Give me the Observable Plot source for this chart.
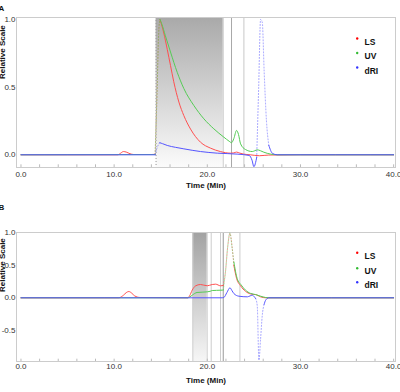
<!DOCTYPE html>
<html>
<head>
<meta charset="utf-8">
<script src="https://cdn.jsdelivr.net/npm/d3@7"></script>
<script src="https://cdn.jsdelivr.net/npm/@observablehq/plot@0.6"></script>
<style>
  body { margin: 0; background: #fff; font-family: "Liberation Sans", Arial, sans-serif; }
  #chart { width: 400px; }
  #chart svg { display: block; }
</style>
</head>
<body>
<div id="chart"></div>
<script>
// Detector names and their trace colours
const detectors = ["LS", "UV", "dRI"];
const traceColors = ["#ff5050", "#55cc55", "#5555ff"];
const legendColors = ["#ff0000", "#33bb33", "#3333ff"];

// Axis ticks
const timeTicks = [0, 10, 20, 30, 40];
const minorTimeTicks = [0, 2, 4, 6, 8, 10, 12, 14, 16, 18, 20, 22, 24, 26, 28, 30, 32, 34, 36, 38, 40];
const scaleTicksA = [0, 0.5, 1.0];
const scaleTicksB = [-0.5, 0, 0.5, 1.0];

// Panel A traces (time in min, relative scale)
const lsTimeA = [0, 5, 10.4, 10.7, 11.0, 11.3, 11.7, 12.1, 14.0, 14.4, 14.6, 14.78, 14.92, 15.1, 15.33, 15.7, 16.05, 16.4, 16.95, 17.48, 18.2, 19.27, 20.35, 21.4, 22.5, 22.85, 23.14, 23.5, 23.9, 24.6, 25.6, 26.6, 30, 35, 40];
const lsValA  = [0, 0, 0, 0.012, 0.024, 0.02, 0.008, 0.002, 0.002, 0.004, 0.45, 0.9, 1.0, 0.96, 0.9, 0.78, 0.66, 0.54, 0.39, 0.29, 0.19, 0.093, 0.049, 0.024, 0.012, 0.014, 0.02, 0.012, 0.005, 0, -0.007, -0.002, 0, 0, 0];

const uvTimeA = [0, 14.4, 14.6, 14.78, 14.92, 15.1, 15.5, 16.05, 16.77, 17.48, 18.56, 19.63, 20.7, 21.78, 22.35, 22.6, 22.85, 23.14, 23.35, 23.57, 24.1, 24.83, 25.1, 25.36, 25.7, 26.07, 26.8, 27.5, 40];
const uvValA  = [0, 0.002, 0.45, 0.9, 1.0, 0.97, 0.88, 0.76, 0.61, 0.49, 0.364, 0.266, 0.192, 0.13, 0.1, 0.089, 0.12, 0.18, 0.15, 0.081, 0.039, 0.024, 0.03, 0.037, 0.03, 0.019, 0.005, 0, 0];

const riTimeA = [0, 14.4, 14.6, 14.9, 15.2, 15.7, 16.6, 17.48, 19.27, 21.07, 23.2, 24.5, 24.8, 25.0, 25.3, 25.51, 25.72, 25.9, 26.1, 26.35, 26.6, 27.0, 27.5, 40];
const riValA  = [0, 0, 0.05, 0.089, 0.082, 0.069, 0.055, 0.044, 0.024, 0.012, 0.005, -0.005, -0.04, -0.088, -0.02, 0.49, 1.0, 0.98, 0.62, 0.25, 0.07, 0.01, 0, 0];

// Panel B traces
const lsTimeB = [0, 10.5, 11.0, 11.3, 11.58, 11.9, 12.2, 12.8, 17.9, 18.1, 18.38, 18.74, 19.27, 19.99, 20.53, 20.89, 21.42, 21.71, 21.95, 22.2, 22.43, 22.68, 22.85, 23.14, 23.57, 24.1, 24.64, 24.95, 25.18, 25.72, 26.3, 40];
const lsValB  = [0, 0, 0.04, 0.08, 0.097, 0.07, 0.03, 0.005, 0, 0.03, 0.118, 0.184, 0.205, 0.185, 0.205, 0.21, 0.185, 0.19, 0.4, 0.8, 0.99, 0.76, 0.5, 0.3, 0.185, 0.1, 0.06, 0.052, 0.05, 0.015, 0, 0];

const uvTimeB = [0, 17.9, 18.1, 18.38, 18.9, 19.99, 20.3, 20.53, 21.0, 21.6, 21.72, 21.95, 22.2, 22.43, 22.65, 22.85, 23.2, 23.65, 24.1, 24.64, 25.18, 25.72, 26.25, 26.6, 40];
const uvValB  = [0, 0, 0.01, 0.04, 0.082, 0.092, 0.1, 0.112, 0.115, 0.118, 0.12, 0.4, 0.8, 1.0, 0.78, 0.55, 0.3, 0.195, 0.118, 0.068, 0.05, 0.025, 0.005, 0, 0];

const riTimeB = [0, 21.6, 21.78, 22.1, 22.43, 22.65, 22.85, 23.39, 24.3, 24.6, 24.83, 25.05, 25.18, 25.36, 25.54, 25.72, 25.9, 26.1, 26.25, 26.6, 40];
const riValB  = [0, 0, 0.005, 0.08, 0.154, 0.11, 0.066, 0.025, 0.015, 0.03, 0.04, 0.015, -0.01, -0.12, -0.96, -0.63, -0.27, -0.1, -0.04, 0, 0];

// Fast-changing stretches (min) where the detector samples are sparse and plot as dots
const sparseA = [[[14.4, 14.92]], [[14.4, 14.92]], [[14.4, 14.9], [25.3, 26.6]]];
const sparseB = [[[21.71, 22.85]], [[21.72, 22.85]], [[25.18, 26.1]]];

// Peak slice (shaded) and slice boundary markers, in minutes
const sliceA = [14.5, 21.71];
const markersA = [21.71, 22.6, 23.93];
const markerShadeA = ["#cccccc", "#a8a8a8", "#c8c8c8"];
const sliceB = [18.45, 19.99];
const markersB = [18.45, 19.99, 20.42, 21.42, 21.71, 23.5];
const markerShadeB = ["#cfcfcf", "#cfcfcf", "#cccccc", "#cccccc", "#999999", "#cccccc"];

const zip = (t, v) => t.map((time, i) => ({time, value: v[i]}));

// Split a trace into continuous pieces and sparse pieces; neighbours share their end points
function splitTrace(points, sparse) {
  const solid = [], dotted = [];
  let edges = [points[0].time];
  sparse.forEach(([a, b]) => edges.push(a, b));
  edges.push(points[points.length - 1].time);
  for (let k = 0; k < edges.length - 1; k++) {
    const lo = edges[k], hi = edges[k + 1];
    const part = points.filter(p => p.time >= lo && p.time <= hi).map(p => ({...p, piece: k}));
    (k % 2 === 0 ? solid : dotted).push(...part);
  }
  return {solid, dotted};
}

function panel({letter, height, marginTop, marginBottom, yDomain, yTicks, traces, sparse, slice, markers, markerShade,
                sliceDashed, gradId, gradTop, gradBottom, tickPad, titleDy, yLabelDy, letterDy, legendDy}) {
  const marks = [
    Plot.rect([slice], {x1: d => d[0], x2: d => d[1], fill: `url(#${gradId})`}),
    ...markers.map((m, i) => Plot.ruleX([m], {stroke: markerShade[i], strokeWidth: 1})),
    Plot.frame({stroke: "#cccccc"}),
    Plot.ruleX(minorTimeTicks, {x: d => d, y1: yDomain[0], y2: yDomain[0] + (yDomain[1] - yDomain[0]) * 0.018, stroke: "#bbbbbb"}),
    Plot.axisX({ticks: timeTicks, tickFormat: d => d.toFixed(1), tickSize: 0, tickPadding: tickPad, label: null, fill: "#333"}),
    Plot.axisY({ticks: yTicks, tickFormat: d => d.toFixed(1), tickSize: 0, tickPadding: 1, label: null, fill: "#333"})
  ];
  if (sliceDashed) {
    marks.splice(1, 0, Plot.ruleX([slice[0]], {stroke: "#999999", strokeDasharray: "1,2"}));
  }
  traces.forEach((tr, i) => {
    const {solid, dotted} = splitTrace(tr, sparse[i]);
    marks.push(Plot.line(dotted, {x: "time", y: "value", z: "piece", stroke: traceColors[i], strokeWidth: 1,
      strokeOpacity: 0.55, strokeDasharray: "1,2", curve: "monotone-x", clip: true}));
    marks.push(Plot.line(solid, {x: "time", y: "value", z: "piece", stroke: traceColors[i], strokeWidth: 1,
      curve: "monotone-x", clip: true}));
  });
  marks.push(
    Plot.text(["Time (Min)"], {frameAnchor: "bottom", dy: titleDy, fontWeight: "bold", fill: "#111", fontSize: 8}),
    Plot.text(["Relative Scale"], {frameAnchor: "left", rotate: -90, dx: -14, dy: yLabelDy, fontWeight: "bold", fill: "#111", fontSize: 8}),
    Plot.text([letter], {frameAnchor: "top-left", dx: -18, dy: letterDy, textAnchor: "start", fontWeight: "bold", fill: "#111", fontSize: 8})
  );
  detectors.forEach((name, i) => {
    marks.push(Plot.dot([name], {frameAnchor: "top-right", dx: -38.3, dy: legendDy[i], r: 1.2, fill: legendColors[i], stroke: "none"}));
    marks.push(Plot.text([name], {frameAnchor: "top-right", dx: -31, dy: legendDy[i], textAnchor: "start", fontWeight: "bold", fill: "#111", fontSize: 8.5}));
  });

  const svg = Plot.plot({
    width: 400,
    height,
    marginLeft: 16,
    marginRight: 5,
    marginTop,
    marginBottom,
    style: {fontFamily: "'Liberation Sans', Arial, sans-serif", fontSize: "8px", background: "#fff", color: "#333"},
    x: {domain: [-0.48, 40.2]},
    y: {domain: yDomain},
    marks
  });

  const grad = d3.select(svg).insert("defs", ":first-child")
    .append("linearGradient").attr("id", gradId)
    .attr("x1", 0).attr("y1", 0).attr("x2", 0).attr("y2", 1);
  grad.append("stop").attr("offset", "0%").attr("stop-color", gradTop);
  grad.append("stop").attr("offset", "100%").attr("stop-color", gradBottom);
  return svg;
}

const chart = document.getElementById("chart");

chart.appendChild(panel({
  letter: "A", height: 200, marginTop: 17, marginBottom: 33,
  yDomain: [-0.094, 1.015], yTicks: scaleTicksA,
  traces: [zip(lsTimeA, lsValA), zip(uvTimeA, uvValA), zip(riTimeA, riValA)], sparse: sparseA,
  slice: sliceA, markers: markersA, markerShade: markerShadeA, sliceDashed: true,
  gradId: "sliceGradA", gradTop: "#a9a9a9", gradBottom: "#fbfbfb",
  tickPad: 4, titleDy: 20, yLabelDy: -13.5, letterDy: -12, legendDy: [21, 35.5, 50]
}));

chart.appendChild(panel({
  letter: "B", height: 192, marginTop: 32, marginBottom: 31,
  yDomain: [-0.98, 1.005], yTicks: scaleTicksB,
  traces: [zip(lsTimeB, lsValB), zip(uvTimeB, uvValB), zip(riTimeB, riValB)], sparse: sparseB,
  slice: sliceB, markers: markersB, markerShade: markerShadeB, sliceDashed: false,
  gradId: "sliceGradB", gradTop: "#a2a2a2", gradBottom: "#f6f6f6",
  tickPad: 2, titleDy: 21, yLabelDy: -5, letterDy: -28, legendDy: [20.3, 35.7, 49.7]
}));
</script>
</body>
</html>
